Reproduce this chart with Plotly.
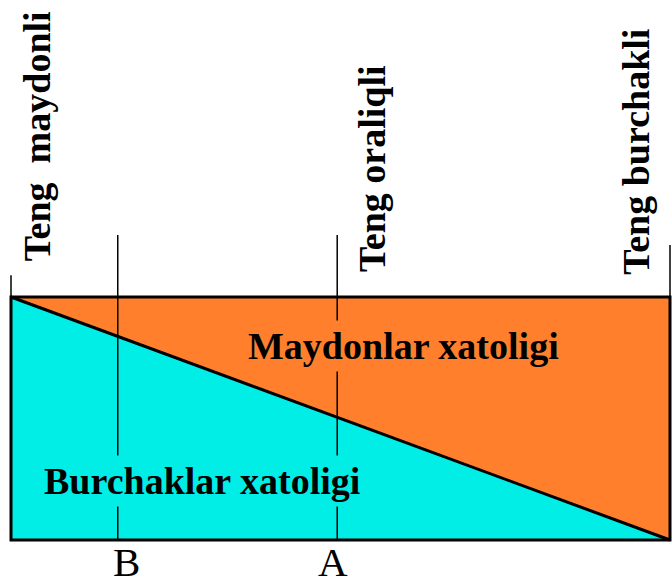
import plotly.graph_objects as go

# projection positions along the scale (0 = equal-area, 1 = conformal)
positions = [0.0, 1.0]
angle_error = [1.0, 0.0]   # burchaklar xatoligi (share)
total_error = [1.0, 1.0]

# marker lines: x position and how high they rise above the box
mark_x = [0.0, 0.162, 0.495, 1.0]
mark_top = [1.09, 1.255, 1.255, 1.214]
mark_bottom = [1.0, 0.0, 0.0, 1.0]

top_labels = ["Teng  maydonli", "Teng oraliqli", "Teng burchakli"]
top_label_x = [0.040, 0.548, 0.948]
top_label_y = [1.663, 1.527, 1.597]

point_labels = ["B", "A"]
point_label_x = [0.176, 0.489]

CYAN = "#00EEE6"
ORANGE = "#FF7F2D"
SERIF = "Liberation Serif, Times New Roman, serif"

fig = go.Figure()

fig.add_trace(go.Scatter(
    x=positions, y=angle_error, mode="lines", fill="tozeroy",
    fillcolor=CYAN, line=dict(color="black", width=3),
))
fig.add_trace(go.Scatter(
    x=positions, y=total_error, mode="lines", fill="tonexty",
    fillcolor=ORANGE, line=dict(color="black", width=0),
))

# vertical marker lines
lx, ly = [], []
for x, b, t in zip(mark_x, mark_bottom, mark_top):
    lx += [x, x, None]
    ly += [b, t, None]
fig.add_trace(go.Scatter(x=lx, y=ly, mode="lines",
                         line=dict(color="black", width=1.5)))

# box outline
fig.add_shape(type="rect", x0=positions[0], x1=positions[-1], y0=0, y1=1,
              line=dict(color="black", width=3))

for txt, x, y in zip(top_labels, top_label_x, top_label_y):
    fig.add_annotation(x=x, y=y, text="<b>" + txt + "</b>", textangle=-90,
                       showarrow=False,
                       font=dict(family=SERIF, size=38, color="black"),
                       xanchor="center", yanchor="middle")

# region labels sit on a patch of their region colour (hides the lines)
fig.add_annotation(x=0.596, y=0.800, text="<b>Maydonlar xatoligi</b>",
                   showarrow=False, bgcolor=ORANGE, borderpad=4,
                   font=dict(family=SERIF, size=38, color="black"))
fig.add_annotation(x=0.290, y=0.244, text="<b>Burchaklar xatoligi</b>",
                   showarrow=False, bgcolor=CYAN, borderpad=4,
                   font=dict(family=SERIF, size=38, color="black"))

for txt, x in zip(point_labels, point_label_x):
    fig.add_annotation(x=x, y=-0.1934, text=txt, showarrow=False,
                       xanchor="center", yanchor="bottom",
                       font=dict(family=SERIF, size=41, color="black"))

fig.update_xaxes(visible=False, range=[-0.01669, 1.00303])
fig.update_yaxes(visible=False, range=[-0.19342, 2.22222])
fig.update_layout(
    width=672, height=587, margin=dict(l=0, r=0, t=0, b=0),
    showlegend=False, plot_bgcolor="white", paper_bgcolor="white",
)

# drop the default page margin so the figure fills the window
fig.write_html("out.html", config={"displayModeBar": False},
               post_script="document.body.style.margin='0';")
